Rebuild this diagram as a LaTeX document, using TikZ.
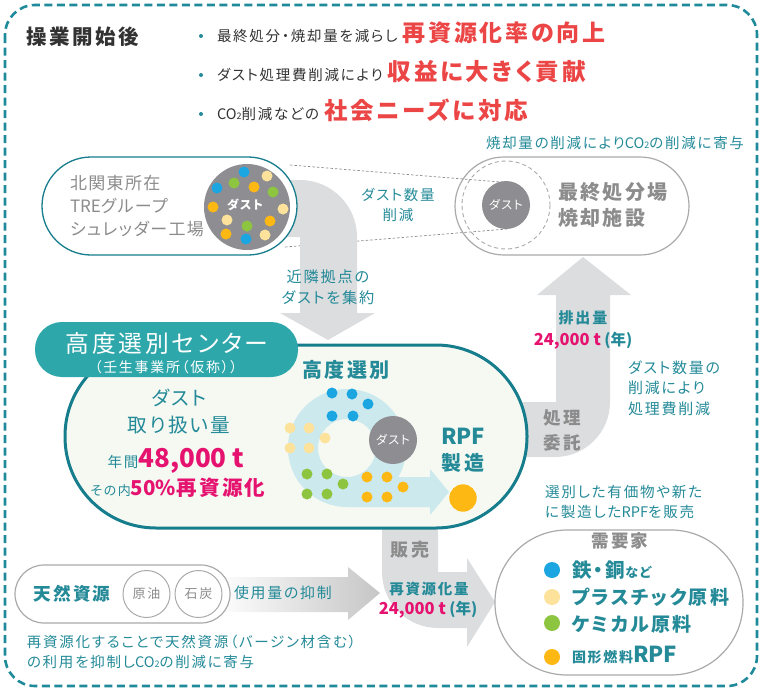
\documentclass[tikz,border=0pt]{standalone}
\usepackage{fontspec}
\setmainfont{Noto Sans CJK JP}[RawFeature=+palt,LetterSpace=12]
\newfontfamily\nls{Noto Sans CJK JP}[RawFeature=+palt]
\newfontfamily\mls{Noto Sans CJK JP}[RawFeature=+palt,LetterSpace=8]
\newcommand{\fsz}[1]{\fontsize{#1}{#1}\selectfont}
\newcommand{\fsl}[2]{\fontsize{#1}{#2}\selectfont}
\definecolor{tealA}{RGB}{36,138,152}
\definecolor{frameC}{RGB}{30,138,154}
\definecolor{boxteal}{RGB}{22,125,140}
\definecolor{headteal}{RGB}{46,167,171}
\definecolor{boxbg}{RGB}{245,249,242}
\definecolor{arrowgray}{RGB}{220,221,223}
\definecolor{graytext}{RGB}{140,140,140}
\definecolor{outlinegray}{RGB}{170,170,170}
\definecolor{dustgray}{RGB}{142,142,146}
\definecolor{magentaA}{RGB}{229,18,111}
\definecolor{redA}{RGB}{235,69,69}
\definecolor{ringblue}{RGB}{204,233,238}
\definecolor{dblue}{RGB}{27,166,225}
\definecolor{dyellow}{RGB}{252,226,155}
\definecolor{dgreen}{RGB}{141,197,64}
\definecolor{dorange}{RGB}{253,184,20}
\definecolor{darktext}{RGB}{50,50,50}
\definecolor{gradgray}{RGB}{198,198,198}
\begin{document}
\begin{tikzpicture}[x=1pt,y=-1pt,
  every node/.style={inner sep=0pt,outer sep=0pt},
  tt/.style={text=tealA},
  gt/.style={text=graytext},
  wt/.style={text=white},
  grayarrow/.style={fill=arrowgray},
  pillgray/.style={draw=outlinegray,line width=1.2pt,fill=white},
  dotline/.style={draw=graytext,line width=0.7pt,dash pattern=on 2.5pt off 2pt},
  bullet/.style={fill=tealA}]
\useasboundingbox (0,0) rectangle (763,691);

% outer frame
\draw[frameC,line width=2.6pt,dash pattern=on 8pt off 4.5pt,rounded corners=30pt] (5,5) rectangle (757,686);

% title and bullets
\node[anchor=base west,text=darktext,font=\fsz{20.5}\bfseries] (title) at (27,44) {操業開始後};
\foreach \y in {36,75,114} \fill[bullet] (201,\y) circle (2);
\node[anchor=base west,text=darktext] (l1) at (217,41) {\fsz{14.5}最終処分・焼却量を減らし\hspace{5pt}{\fsz{23}\bfseries\color{redA}再資源化率の向上}};
\node[anchor=base west,text=darktext] (l2) at (217,80) {\fsz{14.5}ダスト処理費削減により\hspace{5pt}{\fsz{23.5}\bfseries\color{redA}収益に大きく貢献}};
\node[anchor=base west,text=darktext] (l3) at (217,119) {\fsz{14.5}{\nls CO{\fsz{9}2}}削減などの\hspace{5pt}{\fsz{23.5}\bfseries\color{redA}社会ニーズに対応}};

% right top node (final disposal)
\draw[pillgray,rounded corners=49pt] (455,157) rectangle (689,255);
\draw[outlinegray,line width=0.9pt,dash pattern=on 4pt off 3pt] (506,205) circle (44);
\draw[dotline] (290,165) -- (513,183);
\draw[dotline] (285,247) -- (507,229);
\fill[dustgray] (506,205) circle (24);
\node[wt,font=\fsz{12}] (dust2) at (506,205) {ダスト};
\node[anchor=west,align=left,gt,font=\fsl{20}{26}\bfseries] (fin) at (558,205) {最終処分場\\焼却施設};
\node[anchor=base east,tt,font=\fsz{14.5}] (co2a) at (744,148) {焼却量の削減により{\nls CO{\fsz{9}2}}の削減に寄与};
\node[tt,align=center,font=\fsl{14.5}{20}] (dred) at (398,205) {ダスト数量\\削減};

% top collecting arrow
\fill[grayarrow] (255,180) -- (300,180) arc[start angle=270,end angle=360,radius=57] -- (357,313) -- (375,313) -- (328,340) -- (280,313) -- (300,313) -- (300,237) -- (255,237) -- cycle;
\node[tt,align=center,font=\fsl{15.2}{21}] (coll) at (328,287) {近隣拠点の\\ダストを集約};

% top-left node (shredder plant)
\draw[draw=boxteal,line width=1.3pt,fill=white,rounded corners=49pt] (42,157) rectangle (297,255);
\node[anchor=west,align=left,gt,font=\mls\fsl{17}{23}] (tre) at (70,206) {北関東所在\\{\nls TRE}グループ\\シュレッダー工場};
\fill[dustgray] (247,207) circle (43);
\foreach \x/\y/\c in {244/172/dblue,267/176/dyellow,217/188/dblue,234/183/dgreen,254/187/dorange,273/192/dgreen,213/207/dorange,283/209/dyellow,227/220/dyellow,247/226/dgreen,270/221/dorange,226/234/dorange,246/239/dblue,265/235/dyellow}
  \fill[\c] (\x,\y) circle (5.5);
\node[wt,font=\fsz{12}\bfseries] (dust1) at (245,205) {ダスト};

% right upward arrow (processing outsourced)
\fill[grayarrow] (515,402) -- (556,402) -- (556,295) -- (537,295) -- (583,257) -- (631,295) -- (610,295) -- (610,402) arc[start angle=0,end angle=90,radius=55] -- (515,457) -- cycle;
\node[tt,font=\fsz{15}\bfseries] (haishutsu) at (583,318) {排出量};
\node[anchor=base] (amt1) at (583,345) {{\nls\fsz{16.5}\bfseries\color{magentaA}24,000 t} {\nls\fsz{15.5}\bfseries\color{tealA}(年)}};
\node[gt,align=center,font=\fsl{17.5}{25}\bfseries] (itaku) at (562,430) {処理\\委託};
\node[anchor=west,tt,align=left,font=\fsl{15}{20.5}] (costred) at (628,388) {ダスト数量の\\削減により\\処理費削減};

% bottom selling arrow
\fill[grayarrow] (382,515) -- (382,572) arc[start angle=180,end angle=90,radius=56] -- (467,628) -- (467,647) -- (495,602) -- (467,558) -- (467,572) -- (438,572) -- (438,515) -- cycle;
\node[gt,font=\fsz{18}\bfseries] (hanbai) at (410,550) {販売};
\node[tt,font=\fsz{14.5}\bfseries] (saishigen) at (429,589) {再資源化量};
\node[anchor=base] (amt2) at (428,614) {{\nls\fsz{16.5}\bfseries\color{magentaA}24,000 t} {\nls\fsz{15.5}\bfseries\color{tealA}(年)}};

% center box
\draw[line width=3pt,draw=boxteal,fill=boxbg,rounded corners=91pt] (65,345) rectangle (527,528);
\fill[headteal,rounded corners=27pt] (35,322) rectangle (298,377);
\node[wt,font=\fsz{23.8}] (center) at (167,343) {高度選別センター};
\node[wt,font=\fsz{14}] (mibu) at (166,367) {（壬生事業所（仮称））};
\node[tt,align=center,font=\fsl{19.6}{27}] (handle) at (179,411) {ダスト\\取り扱い量};
\node[anchor=base] (nenkan) at (176,467) {{\fsz{14.5}\color{tealA}年間}{\nls\fsz{26}\bfseries\color{magentaA}48,000 t}};
\node[anchor=base] (ratio) at (178,495) {{\fsz{13}\color{tealA}その内}{\fsz{20.5}\bfseries\color{magentaA}{\nls 50\%}再資源化}};
\node[tt,font=\fsz{20}\bfseries] (koudo) at (346,370) {高度選別};

% sorting ring
\fill[ringblue,even odd rule] (347,448) circle (59) (347,448) circle (29);
\fill[ringblue] (347,477) -- (430,477) -- (430,469) -- (449,492) -- (430,515) -- (430,507) -- (347,507) -- cycle;
\foreach \x/\y/\c in {332/393/dblue,352/394/dblue,368/404/dblue,332/416/dblue,353/416/dblue,
  290/428/dyellow,309/428/dyellow,325/438/dyellow,290/448/dyellow,309/448/dyellow,
  307/474/dgreen,327/474/dgreen,343/484/dgreen,307/494/dgreen,327/494/dgreen,
  367/477/dorange,387/477/dorange,403/487/dorange,367/497/dorange,387/497/dorange}
  \fill[\c] (\x,\y) circle (5.5);
\fill[dustgray] (393,440) circle (24);
\node[wt,font=\fsz{12}] (dust3) at (393,440) {ダスト};
\fill[dorange] (463,498) circle (13.7);
\node[tt,align=center,font=\fsl{20}{26}\bfseries] (rpf) at (463,450) {{\nls\fsz{22}RPF}\\製造};

% natural resources
\shade[left color=white,right color=gradgray] (215,577) -- (348,577) -- (348,567) -- (380,593) -- (348,620) -- (348,612) -- (215,612) -- cycle;
\draw[pillgray,rounded corners=29pt] (15,565) rectangle (230,623);
\node[tt,font=\fsz{17.6}\bfseries] (tennen) at (72,594) {天然資源};
\draw[outlinegray,line width=1pt] (146.5,594) circle (23.5);
\draw[outlinegray,line width=1pt] (198.5,594) circle (23.5);
\node[gt,font=\fsz{13}] (genyu) at (146.5,594) {原油};
\node[gt,font=\fsz{13}] (sekitan) at (198.5,594) {石炭};
\node[anchor=west,tt,font=\fsz{14.9}] (yokusei) at (234,593) {使用量の抑制};
\node[anchor=west,tt,align=left,font=\fsl{14.5}{19.5}] (note) at (27,652) {再資源化することで天然資源（バージン材含む）\\の利用を抑制し{\nls CO{\fsz{9}2}}の削減に寄与};

% customers
\node[anchor=west,tt,align=left,font=\fsl{14.6}{20}] (sell) at (545,502) {選別した有価物や新た\\に製造した{\nls RPF}を販売};
\draw[pillgray,rounded corners=72pt] (495,530) rectangle (743,675);
\node[gt,font=\fsz{17.5}\bfseries] (juyou) at (620,541) {需要家};
\fill[dblue] (552,570) circle (8);
\fill[dyellow] (552,597) circle (8);
\fill[dgreen] (552,623) circle (8);
\fill[dorange] (552,657) circle (8);
\node[anchor=base west,tt] (i1) at (572,577) {\fsz{19.5}\bfseries 鉄・銅{\fsz{13}など}};
\node[anchor=base west,tt] (i2) at (572,604) {\fsz{19}\bfseries プラスチック原料};
\node[anchor=base west,tt] (i3) at (572,631) {\fsz{19}\bfseries ケミカル原料};
\node[anchor=base west,tt] (i4) at (572,662) {\fsz{14}\bfseries 固形燃料{\nls\fsz{22}RPF}};
\end{tikzpicture}
\end{document}
